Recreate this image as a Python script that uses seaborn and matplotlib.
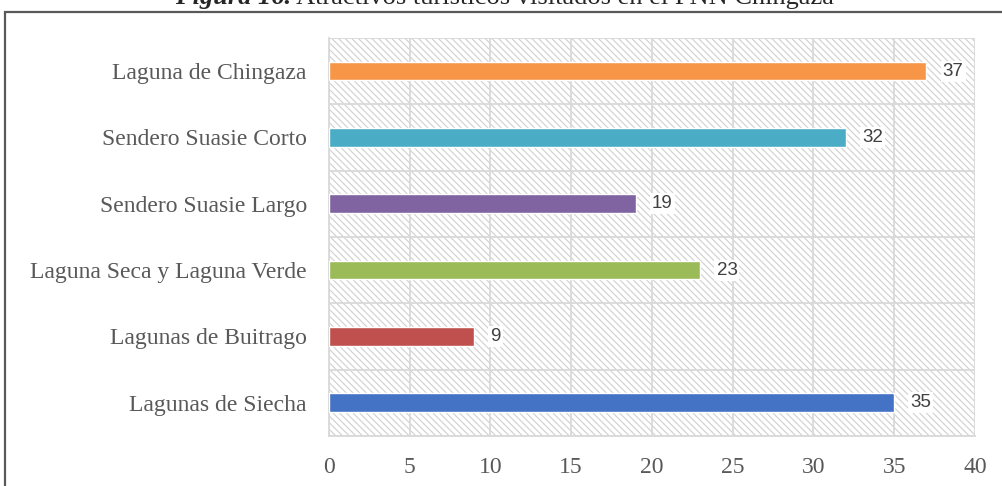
import matplotlib
matplotlib.use("Agg")
import matplotlib.pyplot as plt
import seaborn as sns
import pandas as pd
from matplotlib.patches import Rectangle

# data (top to bottom, as in the chart)
atractivos = ["Laguna de Chingaza", "Sendero Suasie Corto", "Sendero Suasie Largo",
              "Laguna Seca y Laguna Verde", "Lagunas de Buitrago", "Lagunas de Siecha"]
visitas = [37, 32, 19, 23, 9, 35]
colores = ["#F79646", "#4BACC6", "#8064A2", "#9BBB59", "#C0504D", "#4472C4"]
xticks = [0, 5, 10, 15, 20, 25, 30, 35, 40]

df = pd.DataFrame({"atractivo": atractivos, "visitas": visitas})

sns.set_style("white")
plt.rcParams["font.family"] = ["Liberation Serif", "DejaVu Serif"]
plt.rcParams["hatch.color"] = "#C8C8C8"
plt.rcParams["hatch.linewidth"] = 0.8

fig = plt.figure(figsize=(10.03, 4.86), dpi=100)
ax = fig.add_axes([0.328, 0.103, 0.644, 0.819])

# hatched background
ax.add_patch(Rectangle((0, 0), 1, 1, transform=ax.transAxes, facecolor="white",
                       edgecolor="#D0D0D0", hatch="\\\\\\\\\\", linewidth=0, zorder=0))

sns.barplot(data=df, x="visitas", y="atractivo", hue="atractivo", palette=colores,
            order=atractivos, orient="h", width=0.28, legend=False, ax=ax,
            saturation=1, zorder=3)

ax.set_xlim(0, 40)
ax.set_ylim(5.5, -0.5)
ax.set_xticks(xticks)
ax.set_xticklabels([str(t) for t in xticks])
ax.set_yticks(range(len(atractivos)))
ax.set_yticklabels(atractivos)
ax.set_yticks([i - 0.5 for i in range(len(atractivos) + 1)], minor=True)
ax.set_xlabel("")
ax.set_ylabel("")

ax.grid(axis="x", color="#D9D9D9", linewidth=1.3, zorder=1)
ax.grid(axis="y", which="minor", color="#D9D9D9", linewidth=1.3, zorder=1)
ax.set_axisbelow(True)
ax.tick_params(axis="y", which="major", length=0, pad=16, labelsize=17, labelcolor="#595959")
ax.tick_params(axis="y", which="minor", length=5, color="#D9D9D9", width=1.3)
ax.tick_params(axis="x", length=0, pad=15, labelsize=17, labelcolor="#595959")
for s in ["top", "right"]:
    ax.spines[s].set_visible(False)
for s in ["left", "bottom"]:
    ax.spines[s].set_color("#D9D9D9")
    ax.spines[s].set_linewidth(1.3)

for i, v in enumerate(visitas):
    ax.text(v + 1.0, i, str(v), va="center", ha="left", fontsize=13.5,
            family=["Liberation Sans", "DejaVu Sans"], color="#404040", zorder=4,
            bbox=dict(facecolor="white", edgecolor="none", pad=1.5))

# outer frame
fig.add_artist(Rectangle((5 / 1003, -0.1), 1.1, 1 - 12 / 486 + 0.1, transform=fig.transFigure,
                         facecolor="none", edgecolor="#595959", linewidth=1.6))

# title, partially cut at the top
t1 = fig.text(175 / 1003, 1 - 4 / 486, "Figura 16.", fontsize=19, fontweight="bold",
              fontstyle="italic", va="baseline", ha="left")
fig.canvas.draw()
ax.annotate(" Atractivos turísticos visitados en el PNN Chingaza", xy=(1, 0),
            xycoords=t1, va="bottom", ha="left", fontsize=19, annotation_clip=False)

fig.savefig("out.png", dpi=100)
